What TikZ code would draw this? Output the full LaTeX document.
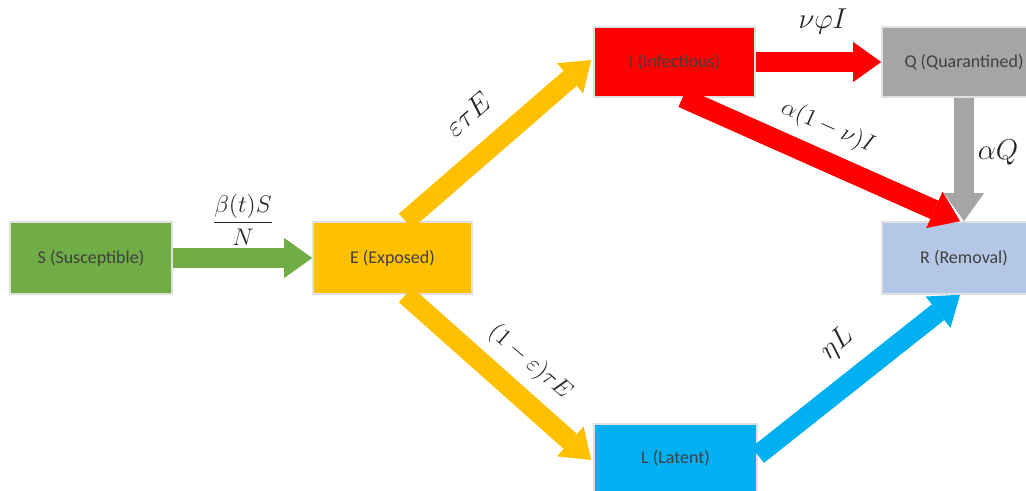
\documentclass[tikz,border=0pt]{standalone}
\usepackage{fontspec}
\setmainfont{Carlito}
\usetikzlibrary{calc,arrows.meta}

\definecolor{cgreen}{HTML}{70AD47}
\definecolor{cgold}{HTML}{FFC000}
\definecolor{cred}{HTML}{FF0000}
\definecolor{cgray}{HTML}{A5A5A5}
\definecolor{cpale}{HTML}{B4C7E7}
\definecolor{ccyan}{HTML}{00B0F0}

\begin{document}
\begin{tikzpicture}[
    x=0.5pt, y=-0.5pt,
    font=\fontsize{9}{11}\selectfont,
    box/.style={draw=black!12, line width=0.8pt, text=black!75, minimum height=36pt, inner sep=0pt},
    flow/.style={line width=10pt, -{Triangle[width=20pt,length=14pt,line width=0pt]}},
    rate/.style={text=black!85, inner sep=1pt}
]

    \useasboundingbox (0,0) rectangle (1026,491);

    % --- Compartments ---
    \node[box, fill=cgreen, minimum width=81pt] (S) at (91,258) {S (Susceptible)};
    \node[box, fill=cgold, minimum width=79.5pt] (E) at (392.5,258) {E (Exposed)};
    \node[box, fill=cred, minimum width=80.5pt, minimum height=35pt] (I) at (674.5,62) {I (Infectious)};
    \node[box, fill=cgray, minimum width=82pt, minimum height=35pt] (Q) at (964,62) {Q (Quarantined)};
    \node[box, fill=cpale, minimum width=82pt] (R) at (964,258) {R (Removal)};
    \node[box, fill=ccyan, minimum width=81.5pt, minimum height=34pt] (L) at (675.5,458) {L (Latent)};

    % --- Flows between compartments ---
    \draw[flow, cgreen] (S.east) -- (E.west);
    \draw[flow, cgold] ($(E.north)+(13,0)$) -- ($(I.west)+(-2,-2)$);
    \draw[flow, cgold] ($(E.south)+(13,0)$) -- ($(L.west)+(-2,2)$);
    \draw[flow, cred] (I.east) -- (Q.west);
    \draw[flow, cred] ($(I.south)+(8,0)$) -- ($(R.north)+(-4,0)$);
    \draw[flow, cgray] (Q.south) -- (R.north);
    \draw[flow, ccyan] ($(L.east)+(0,-3)$) -- ($(R.south)+(-4,0)$);

    % --- Rates ---
    \node[rate, font=\large] (rSE) at (243,220) {${\displaystyle\frac{\beta(t)S}{N}}$};
    \node[rate, font=\Large, rotate=41] (rEI) at (468,114) {$\varepsilon\tau E$};
    \node[rate, font=\large, rotate=-41] (rEL) at (530,362) {$(1-\varepsilon)\tau E$};
    \node[rate, font=\Large] (rIQ) at (823,21) {$\nu\varphi I$};
    \node[rate, font=\large, rotate=-24] (rIR) at (828,127) {$\alpha(1-\nu)I$};
    \node[rate, font=\Large] (rQR) at (998,152) {$\alpha Q$};
    \node[rate, font=\Large, rotate=41] (rLR) at (837,344) {$\eta L$};

\end{tikzpicture}
\end{document}
